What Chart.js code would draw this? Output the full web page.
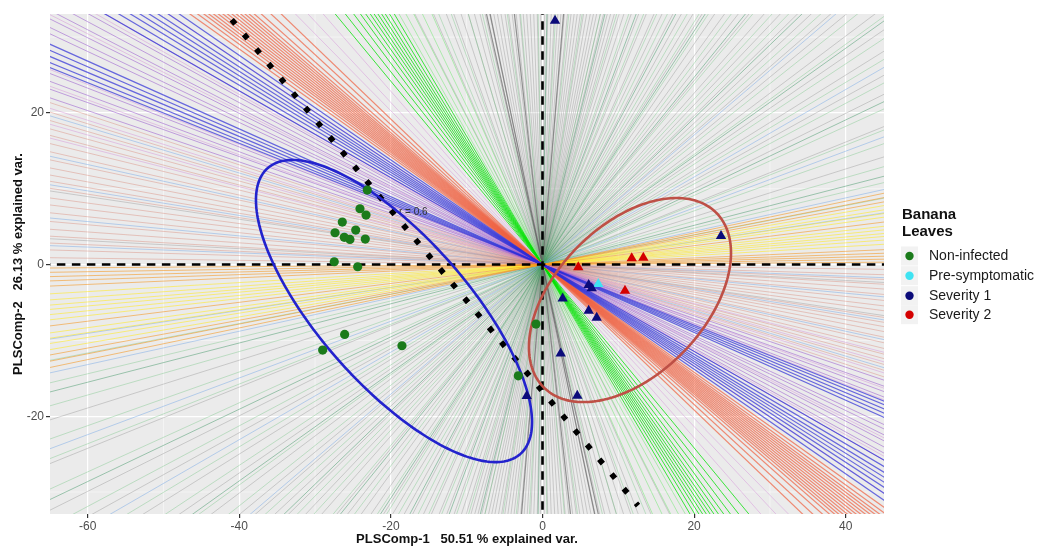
<!DOCTYPE html>
<html>
<head>
<meta charset="utf-8">
<script src="https://cdn.jsdelivr.net/npm/chart.js@4.4.1/dist/chart.umd.min.js"></script>
<style>
  html, body { margin: 0; padding: 0; background: #ffffff; }
  canvas { display: block; }
</style>
</head>
<body>
<canvas id="biplot" width="1041" height="547"></canvas>
<script>
// ---- sample scores (PLSComp-1, PLSComp-2) ----
const nonInfected = [
  [-23.11, 9.83], [-24.08, 7.36], [-23.28, 6.53], [-26.41, 5.61], [-27.37, 4.20],
  [-24.64, 4.55], [-26.15, 3.59], [-25.40, 3.32], [-23.38, 3.36], [-27.47, 0.37],
  [-24.38, -0.29], [-26.10, -9.21], [-29.00, -11.28], [-18.54, -10.71],
  [-0.86, -7.85], [-3.19, -14.67]
];
const preSymptomatic = [[7.36, -2.57]];
const severity1 = [
  [1.65, 32.16], [23.55, 3.76], [6.09, -2.70], [6.49, -3.14], [2.66, -4.46],
  [6.09, -6.09], [7.15, -7.02], [2.40, -11.72], [4.59, -17.31], [-2.08, -17.35]
];
const severity2 = [[11.77, 0.82], [13.30, 0.90], [4.72, -0.37], [10.88, -3.46]];

// ---- loading directions (degrees from the PLSComp-1 axis), grouped by colour ----
const greyDirs = [17.5, 22, 26.5, 29, 32, 34.5, 37, 39.5, 41, 43, 44.5, 46.5, 48.5, 50.5, 52, 54,
  55.5, 57.5, 59, 61, 62.5, 64.5, 66, 67.5, 69, 70.5, 72, 73, 74, 74.8, 75.5, 76.3, 77, 77.8, 78.5,
  79.2, 80, 80.7, 81.4, 82.1, 82.8, 83.5, 84.3, 85, 85.8, 86.5, 87.3, 88, 88.8, 89.5, 90.4, 91.2,
  92, 92.8, 93.6, 94.4, 95.2, 96, 96.9, 97.7, 98.5, 99.4, 100.2, 101, 101.9, 102.9, 104, 105.2,
  106.5, 108, 109.5, 111, 113.5, 117, 171.5, 177];
const darkGreyDirs = [85.2, 96.4, 101.8, 102.6];
const paleGreenDirs = [11, 13.5, 16, 19.5, 21.5, 24.5, 28, 31, 33.5, 36, 38.5, 42, 45.5, 47.5, 50,
  53, 56.5, 58, 60, 63.5, 65.5, 68, 71, 73.5, 77, 81, 84, 87, 91, 95, 98, 103.5, 106.5, 110, 112.5];
const seaGreenDirs = [14.5, 25.5, 35.5, 44, 51, 57, 62, 69.5, 76, 89];
const limeDirs = [113.8, 115.6, 117.2, 118.6, 119.8];
const brightGreenDirs = [120.6, 121.4, 122.1, 122.7, 123.3, 123.9, 124.5, 125.2, 126, 127, 128.2, 129.6];
const skyBlueDirs = [8.6, 12.4, 20.5, 30, 40.5, 163.2, 167.6, 170.8, 174.6, 177.8];
const yellowDirs = [3.4, 4.1, 4.7, 5.2, 5.8, 6.4, 7.9, 8.5, 9.1, 9.8];
const orangeDirs = [0.4, 0.9, 1.4, 1.9, 2.5, 7.1, 10.4, 11.1, 11.8];
const salmonDirs = [161.8, 162.8, 163.7, 164.6, 165.3, 166.2, 167.1, 168, 168.9, 169.7, 170.4,
  171.2, 172.3, 173.1, 174, 175, 175.9, 176.7, 177.5, 178.3, 179.2];
const orchidDirs = [131.2, 133.1, 134.6, 146.2, 150.7, 153.1, 158.4, 160.1, 162.4, 164.1, 165.6];
const purpleDirs = [150.2, 151.1, 151.9, 152.7, 153.5, 154.3, 154.9, 158.8, 159.6, 160.4, 161.3];
const tomatoDirs = [136.2, 137.3, 138.3, 139, 139.5, 139.9, 140.3, 140.7, 141.1, 141.5, 141.9,
  142.3, 142.7, 143.1, 143.5, 144, 144.6];
const blueDirs = [145.4, 146.2, 146.9, 147.5, 148.1, 148.7, 149.4, 150.2, 155.9, 156.5, 157.1, 157.7, 158.2];

// ---- correlation threshold line (r = 0.6) and group ellipses ----
const thresholdLine = [[-41.0, 32.3], [12.6, -31.8]];
const thresholdLabel = 'r = 0.6';
const thresholdLabelAt = [-18.93, 6.93];
const healthyEllipse = { cx: -19.59, cy: -6.13, a: 25.16, b: 9.78, angle: -48.5 };
const infectedEllipse = { cx: 11.54, cy: -4.68, a: 16.19, b: 9.83, angle: 45.6 };

// ---- axes ----
const xTicks = [-60, -40, -20, 0, 20, 40];
const yTicks = [-20, 0, 20];
const xMinor = [-50, -30, -10, 10, 30];
const yMinor = [-30, -10, 10, 30];
const xTitle = 'PLSComp-1   50.51 % explained var.';
const yTitle = 'PLSComp-2   26.13 % explained var.';
const legendTitle = ['Banana', 'Leaves'];
const groupNames = ['Non-infected', 'Pre-symptomatic', 'Severity 1', 'Severity 2'];

const FONT = '"Liberation Sans", Arial, Helvetica, sans-serif';
const REACH = 150;

const toPts = arr => arr.map(([x, y]) => ({ x, y }));

const datasets = [];
let layer = 1000;

function addLoadings(dirs, color, width) {
  dirs.forEach(deg => {
    const r = deg * Math.PI / 180;
    const ux = Math.cos(r), uy = Math.sin(r);
    datasets.push({
      type: 'scatter', showLine: true, pointRadius: 0, pointHoverRadius: 0,
      borderColor: color, borderWidth: width, clip: 0, order: layer--,
      data: [{ x: -REACH * ux, y: -REACH * uy }, { x: REACH * ux, y: REACH * uy }]
    });
  });
}

addLoadings(greyDirs, 'rgba(120,120,120,0.42)', 0.75);
addLoadings(paleGreenDirs, 'rgba(110,195,125,0.5)', 0.75);
addLoadings(seaGreenDirs, 'rgba(46,139,87,0.55)', 0.8);
addLoadings(skyBlueDirs, 'rgba(95,155,230,0.5)', 0.8);
addLoadings(salmonDirs, 'rgba(212,115,95,0.45)', 0.8);
addLoadings(orchidDirs, 'rgba(210,135,215,0.5)', 0.85);
addLoadings(purpleDirs, 'rgba(135,60,200,0.5)', 0.9);
addLoadings(yellowDirs, 'rgba(255,232,40,0.65)', 0.9);
addLoadings(orangeDirs, 'rgba(245,150,30,0.6)', 0.95);
addLoadings(darkGreyDirs, 'rgba(95,95,95,0.65)', 1.2);
addLoadings(limeDirs, 'rgba(95,230,95,0.5)', 0.9);
addLoadings(brightGreenDirs, 'rgba(0,225,0,0.75)', 1.0);
addLoadings(tomatoDirs, 'rgba(240,95,62,0.7)', 1.2);
addLoadings(blueDirs, 'rgba(45,45,215,0.7)', 1.2);

// zero reference lines
datasets.push({
  type: 'scatter', showLine: true, pointRadius: 0, borderColor: '#000', borderWidth: 2.6,
  borderDash: [8.5, 6.5], clip: 0, order: 4,
  data: [{ x: -70, y: 0 }, { x: 50, y: 0 }]
});
datasets.push({
  type: 'scatter', showLine: true, pointRadius: 0, borderColor: '#000', borderWidth: 2.6,
  borderDash: [8.5, 6.5], clip: 0, order: 4,
  data: [{ x: 0, y: 40 }, { x: 0, y: -40 }]
});
// r threshold line (dotted, diamond dots)
datasets.push({
  type: 'scatter', showLine: true, pointRadius: 0, borderColor: '#000', borderWidth: 5.6,
  borderDash: [5.6, 13.5], borderCapStyle: 'butt', clip: 0, order: 3,
  data: toPts(thresholdLine), note: { text: thresholdLabel, at: thresholdLabelAt }
});
// ellipses
datasets.push({ type: 'scatter', data: [], order: 2, ellipse: healthyEllipse, ellipseColor: 'rgb(35,35,205)' });
datasets.push({ type: 'scatter', data: [], order: 2, ellipse: infectedEllipse, ellipseColor: 'rgb(190,80,70)' });

// sample points
const groupColors = ['#1B7B1B', '#3FE3F2', '#0B0B7A', '#D40000'];
datasets.push({ type: 'scatter', label: groupNames[0], data: toPts(nonInfected), pointStyle: 'circle',
  pointRadius: 4.6, backgroundColor: groupColors[0], borderWidth: 0, order: 0, clip: 0 });
datasets.push({ type: 'scatter', label: groupNames[2], data: toPts(severity1), pointStyle: 'triangle',
  pointRadius: 6, backgroundColor: groupColors[2], borderWidth: 0, order: 0, clip: 0 });
datasets.push({ type: 'scatter', label: groupNames[3], data: toPts(severity2), pointStyle: 'triangle',
  pointRadius: 6, backgroundColor: groupColors[3], borderWidth: 0, order: 0, clip: 0 });
datasets.push({ type: 'scatter', label: groupNames[1], data: toPts(preSymptomatic), pointStyle: 'triangle',
  pointRadius: 6, backgroundColor: groupColors[1], borderWidth: 0, order: 0, clip: 0 });

const decor = {
  id: 'decor',
  beforeDraw(chart) {
    const { ctx, chartArea: a } = chart;
    ctx.save();
    ctx.fillStyle = '#ffffff';
    ctx.fillRect(0, 0, chart.width, chart.height);
    ctx.fillStyle = '#EBEBEB';
    ctx.fillRect(a.left, a.top, a.right - a.left, a.bottom - a.top);
    ctx.restore();
  },
  beforeDatasetsDraw(chart) {
    const { ctx, chartArea: a, scales } = chart;
    ctx.save();
    ctx.strokeStyle = 'rgba(255,255,255,0.8)';
    ctx.lineWidth = 0.6;
    xMinor.forEach(v => {
      const p = scales.x.getPixelForValue(v);
      ctx.beginPath(); ctx.moveTo(p, a.top); ctx.lineTo(p, a.bottom); ctx.stroke();
    });
    yMinor.forEach(v => {
      const p = scales.y.getPixelForValue(v);
      ctx.beginPath(); ctx.moveTo(a.left, p); ctx.lineTo(a.right, p); ctx.stroke();
    });
    ctx.restore();
  },
  afterDatasetDraw(chart, args) {
    const ds = chart.data.datasets[args.index];
    const { ctx, chartArea: a, scales } = chart;
    if (ds.note) {
      ctx.save();
      ctx.font = '10px ' + FONT;
      ctx.fillStyle = '#333';
      ctx.textBaseline = 'middle';
      ctx.textAlign = 'left';
      ctx.fillText(ds.note.text, scales.x.getPixelForValue(ds.note.at[0]), scales.y.getPixelForValue(ds.note.at[1]));
      ctx.restore();
    }
    if (ds.ellipse) {
      const e = ds.ellipse;
      const th = e.angle * Math.PI / 180;
      ctx.save();
      ctx.beginPath();
      ctx.rect(a.left, a.top, a.right - a.left, a.bottom - a.top);
      ctx.clip();
      ctx.beginPath();
      for (let i = 0; i <= 240; i++) {
        const t = i / 240 * Math.PI * 2;
        const ex = e.cx + e.a * Math.cos(t) * Math.cos(th) - e.b * Math.sin(t) * Math.sin(th);
        const ey = e.cy + e.a * Math.cos(t) * Math.sin(th) + e.b * Math.sin(t) * Math.cos(th);
        const px = scales.x.getPixelForValue(ex), py = scales.y.getPixelForValue(ey);
        if (i === 0) ctx.moveTo(px, py); else ctx.lineTo(px, py);
      }
      ctx.closePath();
      ctx.strokeStyle = ds.ellipseColor;
      ctx.lineWidth = 2.6;
      ctx.stroke();
      ctx.restore();
    }
  },
  afterDraw(chart) {
    const { ctx, chartArea: a } = chart;
    ctx.save();
    // axis titles
    ctx.fillStyle = '#111';
    ctx.font = 'bold 13px ' + FONT;
    ctx.textAlign = 'center';
    ctx.textBaseline = 'middle';
    ctx.fillText(xTitle, (a.left + a.right) / 2, 539);
    ctx.save();
    ctx.translate(18, (a.top + a.bottom) / 2);
    ctx.rotate(-Math.PI / 2);
    ctx.fillText(yTitle, 0, 0);
    ctx.restore();
    // legend
    ctx.textAlign = 'left';
    ctx.textBaseline = 'alphabetic';
    ctx.font = 'bold 15px ' + FONT;
    ctx.fillText(legendTitle[0], 902, 219);
    ctx.fillText(legendTitle[1], 902, 236);
    const rows = [256, 275.7, 295.7, 314.7];
    ctx.font = '14px ' + FONT;
    ctx.textBaseline = 'middle';
    rows.forEach((y, i) => {
      ctx.fillStyle = '#F2F2F2';
      ctx.fillRect(901, y - 9.5, 17, 19);
      ctx.fillStyle = groupColors[i];
      ctx.beginPath();
      ctx.arc(909.5, y, 4.2, 0, Math.PI * 2);
      ctx.fill();
      ctx.fillStyle = '#1a1a1a';
      ctx.fillText(groupNames[i], 929, y + 0.5);
    });
    ctx.restore();
  }
};

new Chart(document.getElementById('biplot'), {
  type: 'scatter',
  data: { datasets },
  plugins: [decor],
  options: {
    responsive: false,
    devicePixelRatio: 1,
    animation: false,
    events: [],
    layout: { padding: { top: 14, right: 157, left: 0, bottom: 0 } },
    plugins: { legend: { display: false }, tooltip: { enabled: false } },
    scales: {
      x: {
        type: 'linear', min: -64.97, max: 45.05,
        afterFit: s => { s.height = 33; },
        afterBuildTicks: s => { s.ticks = xTicks.map(v => ({ value: v })); },
        ticks: { font: { family: FONT, size: 12 }, color: '#4D4D4D', padding: 1, maxRotation: 0 },
        grid: { color: '#FFFFFF', lineWidth: 1.2, tickColor: '#333', tickLength: 4, drawOnChartArea: true },
        border: { display: false },
        title: { display: false }
      },
      y: {
        type: 'linear', min: -32.9, max: 33.05,
        afterFit: s => { s.width = 50; },
        afterBuildTicks: s => { s.ticks = yTicks.map(v => ({ value: v })); },
        ticks: { font: { family: FONT, size: 12 }, color: '#4D4D4D', padding: 2 },
        grid: { color: '#FFFFFF', lineWidth: 1.2, tickColor: '#333', tickLength: 4 },
        border: { display: false },
        title: { display: false }
      }
    }
  }
});
</script>
</body>
</html>
